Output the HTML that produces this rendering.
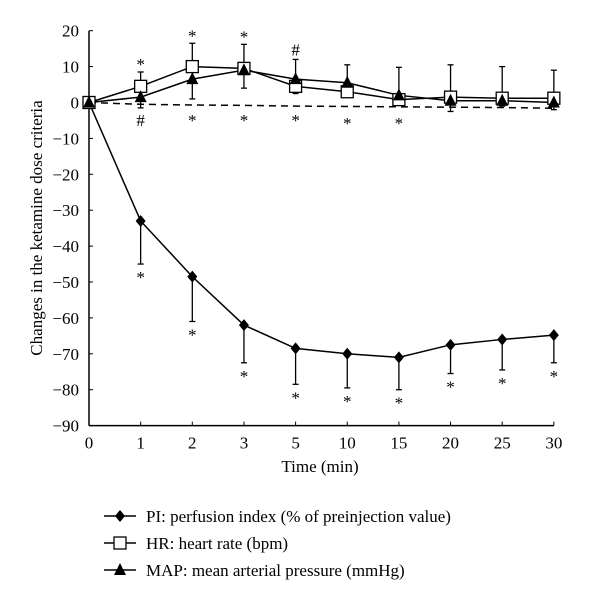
<!DOCTYPE html>
<html><head><meta charset="utf-8"><style>
body{margin:0;background:#fff}
svg{font-family:"Liberation Serif",serif;}
</style></head><body>
<svg id="c" width="600" height="598" xmlns="http://www.w3.org/2000/svg"></svg>
<script>
const cats=["0","1","2","3","5","10","15","20","25","30"];
const yTicks=[20,10,0,-10,-20,-30,-40,-50,-60,-70,-80,-90];
const piVals=[0,-33,-48.5,-62,-68.5,-70,-71,-67.5,-66,-64.8];
const piErrLow=[0,-45,-61,-72.5,-78.5,-79.5,-80,-75.5,-74.5,-72.5];
const hrVals=[0,4.5,10,9.5,4.5,3,0.8,1.5,1.2,1.2];
const hrErrHigh=[0,8.5,16.5,16.2,4.5,3,0.8,10.5,10,9];
const hrErrLow=[0,4.5,10,9.5,2.5,3,0.8,1.5,1.2,1.2];
const mapVals=[0,1.5,6.5,9,6.5,5.5,2,0.5,0.5,0];
const mapErrHigh=[0,1.5,6.5,9,12,10.5,9.8,0.5,0.5,0];
const mapErrLow=[0,-1.5,1,4,6.5,5.5,2,-2.5,-1,-2];
const dashVals=[0,-0.5,-0.7,-0.8,-1,-1.1,-1.2,-1.3,-1.4,-1.6];
const topMarks=["","*","*","*","#","","","","",""];
const midMarks=["","#","*","*","*","*","*","","",""];
const piMarks=["","*","*","*","*","*","*","*","*","*"];
const NS="http://www.w3.org/2000/svg";
const svg=document.getElementById('c');
const x0=89,dx=51.65;
const X=i=>x0+i*dx;
const Y=v=>102.5-v*3.59;
function mk(t,a,p){const e=document.createElementNS(NS,t);for(const k in a)e.setAttribute(k,a[k]);(p||svg).appendChild(e);return e;}
// axes
let ya=mk('line',{x1:x0,y1:Y(20),x2:x0,y2:Y(-90),stroke:'#000','stroke-width':1.5});


let xa=mk('line',{x1:x0,y1:Y(-90),x2:X(9),y2:Y(-90),stroke:'#000','stroke-width':1.5});


yTicks.forEach(v=>{
 mk('line',{x1:x0,y1:Y(v),x2:x0+4,y2:Y(v),stroke:'#000','stroke-width':1});
 const t=mk('text',{x:x0-10,y:Y(v)+6,'text-anchor':'end','font-size':17});
 t.textContent=(v<0?'\u2212'+(-v):v);
 
 
});
cats.forEach((c,i)=>{
 mk('line',{x1:X(i),y1:Y(-90),x2:X(i),y2:Y(-90)-4,stroke:'#000','stroke-width':1});
 const t=mk('text',{x:X(i),y:Y(-90)+23,'text-anchor':'middle','font-size':17});
 t.textContent=c;
 
 
});
let xt=mk('text',{x:320,y:472,'text-anchor':'middle','font-size':17});xt.textContent='Time (min)';


let yt=mk('text',{x:0,y:0,'text-anchor':'middle','font-size':17,transform:'translate(42,228) rotate(-90)'});yt.textContent='Changes in the ketamine dose criteria';


// dashed
let dp=mk('polyline',{points:dashVals.map((v,i)=>X(i)+','+Y(v)).join(' '),fill:'none',stroke:'#000','stroke-width':1.5,'stroke-dasharray':'7,5'});


function err(i,a,b){mk('line',{x1:X(i),y1:Y(a),x2:X(i),y2:Y(b),stroke:'#000','stroke-width':1.3});mk('line',{x1:X(i)-3,y1:Y(b),x2:X(i)+3,y2:Y(b),stroke:'#000','stroke-width':1.3});}
for(let i=1;i<10;i++){err(i,piVals[i],piErrLow[i]);if(hrErrHigh[i]>hrVals[i])err(i,hrVals[i],hrErrHigh[i]);if(hrErrLow[i]<hrVals[i])err(i,hrVals[i],hrErrLow[i]);if(mapErrHigh[i]>mapVals[i])err(i,mapVals[i],mapErrHigh[i]);if(mapErrLow[i]<mapVals[i])err(i,mapVals[i],mapErrLow[i]);}
function line(vals,name){const p=mk('polyline',{points:vals.map((v,i)=>X(i)+','+Y(v)).join(' '),fill:'none',stroke:'#000','stroke-width':1.5});}
line(piVals,'pi-line');line(hrVals,'hr-line');line(mapVals,'map-line');
function diamond(x,y,g){return mk('polygon',{points:`${x},${y-6} ${x+5},${y} ${x},${y+6} ${x-5},${y}`,fill:'#000'},g);}
function square(x,y,g){return mk('rect',{x:x-6,y:y-6,width:12,height:12,fill:'#fff',stroke:'#000','stroke-width':1.3},g);}
function tri(x,y,g){return mk('polygon',{points:`${x},${y-7} ${x+6},${y+5} ${x-6},${y+5}`,fill:'#000'},g);}
piVals.forEach((v,i)=>{const m=diamond(X(i),Y(v));});
hrVals.forEach((v,i)=>{const m=square(X(i),Y(v));});
mapVals.forEach((v,i)=>{const m=tri(X(i),Y(v));});
function note(x,y,s){const t=mk('text',{x:x,y:y,'text-anchor':'middle','font-size':17});t.textContent=s;}
topMarks.forEach((s,i)=>{if(!s)return;const top=Math.max(hrErrHigh[i],mapErrHigh[i]);note(X(i),Y(top)-6+(s=='#'?2:4),s);});
midMarks.forEach((s,i)=>{if(!s)return;note(X(i),126+(i>=5?3:0),s);});
piMarks.forEach((s,i)=>{if(!s)return;note(X(i),Y(piErrLow[i])+19,s);});
// legend
const leg=[['PI: perfusion index (% of preinjection value)',diamond,'legend-pi'],['HR: heart rate (bpm)',square,'legend-hr'],['MAP: mean arterial pressure (mmHg)',tri,'legend-map']];
leg.forEach((l,k)=>{const y=516+k*27;const g=mk('g',{});
 mk('line',{x1:104,y1:y,x2:136,y2:y,stroke:'#000','stroke-width':1.5},g);l[1](120,y,g);
 const t=mk('text',{x:146,y:y+6,'font-size':17},g);t.textContent=l[0];});
</script>
</body></html>
